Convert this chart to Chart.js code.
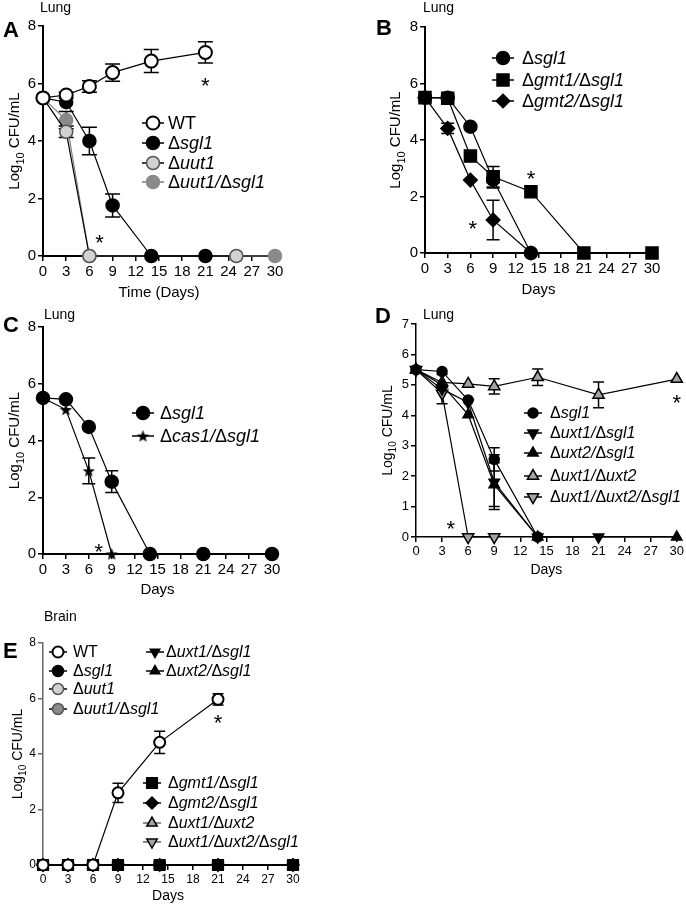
<!DOCTYPE html>
<html><head><meta charset="utf-8">
<script src="https://cdn.jsdelivr.net/npm/chart.js@4.4.1/dist/chart.umd.min.js"></script>
<style>
html,body{margin:0;padding:0;background:#fff;width:686px;height:904px;overflow:hidden}
canvas{position:absolute;left:0;top:0}
</style></head><body>
<canvas id="cA" width="686" height="904"></canvas>
<canvas id="cB" width="686" height="904"></canvas>
<canvas id="cC" width="686" height="904"></canvas>
<canvas id="cD" width="686" height="904"></canvas>
<canvas id="cE" width="686" height="904"></canvas>
<script>
const FONT = "'Liberation Sans', Arial, sans-serif";

// ---------- tick labels ----------
const DAY_TICKS = [0,3,6,9,12,15,18,21,24,27,30];
const Y_TICKS_8 = [0,2,4,6,8];
const Y_TICKS_7 = [0,1,2,3,4,5,6,7];

// ---------- Panel A (Lung) ----------
const A_WT_days = [0,3,6,9,14,21];
const A_WT = [5.5,5.6,5.9,6.38,6.78,7.08];
const A_WT_err = [0,0.1,0.2,0.3,0.4,0.37];
const A_sgl1_days = [0,3,6,9,14,21];
const A_sgl1 = [5.5,5.35,4.0,1.76,0,0];
const A_sgl1_err = [0,0,0.48,0.4,0,0];
const A_uut1_days = [0,3,6,25];
const A_uut1 = [5.5,4.32,0,0];
const A_uut1_err = [0,0.2,0,0];
const A_uut1sgl1_days = [0,3,6,30];
const A_uut1sgl1 = [5.5,4.73,0,0];
const A_uut1sgl1_err = [0,0.3,0,0];

// ---------- Panel B (Lung) ----------
const B_sgl1_days = [0,3,6,9,14];
const B_sgl1 = [5.5,5.5,4.47,2.6,0];
const B_sgl1_err = [0,0,0,0.3,0];
const B_gmt1_days = [0,3,6,9,14,21,30];
const B_gmt1 = [5.5,5.48,3.43,2.7,2.17,0,0];
const B_gmt1_err = [0,0,0,0.36,0,0,0];
const B_gmt2_days = [0,3,6,9,14];
const B_gmt2 = [5.5,4.41,2.58,1.17,0];
const B_gmt2_err = [0,0.18,0,0.7,0];

// ---------- Panel C (Lung) ----------
const C_sgl1_days = [0,3,6,9,14,21,30];
const C_sgl1 = [5.5,5.45,4.48,2.55,0,0,0];
const C_sgl1_err = [0,0,0,0.38,0,0,0];
const C_cas1_days = [0,3,6,9];
const C_cas1 = [5.5,5.09,2.93,0];
const C_cas1_err = [0,0,0.45,0];

// ---------- Panel D (Lung) ----------
const D_sgl1_days = [0,3,6,9,14];
const D_sgl1 = [5.5,5.44,4.5,2.55,0];
const D_sgl1_err = [0,0,0,0.38,0];
const D_uxt1sgl1_days = [0,3,6,9,14,21];
const D_uxt1sgl1 = [5.5,4.86,4.42,1.8,0,0];
const D_uxt1sgl1_err = [0,0.48,0,0.9,0,0];
const D_uxt2sgl1_days = [0,3,6,9,14,30];
const D_uxt2sgl1 = [5.5,5.0,4.02,1.72,0,0];
const D_uxt2sgl1_err = [0,0,0,0.72,0,0];
const D_uxt1uxt2_days = [0,3,6,9,14,21,30];
const D_uxt1uxt2 = [5.5,5.08,5.03,4.95,5.25,4.67,5.19];
const D_uxt1uxt2_err = [0,0,0,0.25,0.27,0.42,0];
const D_triple_days = [0,3,6,9];
const D_triple = [5.5,4.72,0,0];
const D_triple_err = [0,0,0,0];

// ---------- Panel E (Brain) ----------
const E_WT_days = [0,3,6,9,14,21];
const E_WT = [0,0,0,2.6,4.42,5.97];
const E_WT_err = [0,0,0,0.35,0.4,0.2];
const E_mut_days = [0,3,6,9,14,21,30];
const E_sgl1 = [0,0,0,0,0,0,0];
const E_uut1 = [0,0,0,0,0,0,0];
const E_uut1sgl1 = [0,0,0,0,0,0,0];
const E_uxt1sgl1 = [0,0,0,0,0,0,0];
const E_uxt2sgl1 = [0,0,0,0,0,0,0];
const E_gmt1sgl1 = [0,0,0,0,0,0,0];
const E_gmt2sgl1 = [0,0,0,0,0,0,0];
const E_uxt1uxt2 = [0,0,0,0,0,0,0];
const E_triple = [0,0,0,0,0,0,0];
const E_noErr = [0,0,0,0,0,0,0];

// ---------- marker helpers ----------
function makeStar(outer, inner) {
  const s = Math.ceil(outer*2+2);
  const c = document.createElement('canvas'); c.width = s; c.height = s;
  const g = c.getContext('2d'); const cx = s/2, cy = s/2 + 0.6;
  g.beginPath();
  for (let k=0;k<10;k++){ const r = k%2? inner: outer; const a = -Math.PI/2 + k*Math.PI/5;
    const px = cx + Math.cos(a)*r, py = cy + Math.sin(a)*r; k? g.lineTo(px,py): g.moveTo(px,py); }
  g.closePath(); g.fillStyle='#000'; g.fill();
  return c;
}
const STAR = makeStar(6.5, 2.7);

function drawMarker(ctx, mk, x, y) {
  if (mk.style instanceof HTMLCanvasElement) { ctx.drawImage(mk.style, x - mk.style.width/2, y - mk.style.height/2); return; }
  const r = mk.r, rot = (mk.rot||0)*Math.PI/180;
  ctx.beginPath();
  if (mk.style==='circle') ctx.arc(x,y,r,0,2*Math.PI);
  else if (mk.style==='rect') { const s=r*Math.SQRT1_2; ctx.rect(x-s,y-s,2*s,2*s); }
  else if (mk.style==='rectRot') { ctx.moveTo(x,y-r); ctx.lineTo(x+r,y); ctx.lineTo(x,y+r); ctx.lineTo(x-r,y); ctx.closePath(); }
  else if (mk.style==='triangle') { let a=rot; for(let k=0;k<3;k++){ const px=x+Math.sin(a)*r, py=y-Math.cos(a)*r; k?ctx.lineTo(px,py):ctx.moveTo(px,py); a+=2*Math.PI/3;} ctx.closePath(); }
  ctx.fillStyle=mk.fill; ctx.fill(); ctx.strokeStyle=mk.stroke||'#000'; ctx.lineWidth=mk.bw||1.5; ctx.stroke();
}

// draws a strain name: Δ upright, gene names italic ("WT" upright)
function drawLabel(ctx, text, x, y, fs) {
  if (text === 'WT') { ctx.font = fs+'px '+FONT; ctx.fillText(text, x, y); return; }
  const parts = text.split(/(Δ)/).filter(p => p.length);
  let cx = x;
  parts.forEach(p => {
    ctx.font = (p==='Δ' ? '' : 'italic ') + fs + 'px ' + FONT;
    ctx.fillText(p, cx, y);
    cx += ctx.measureText(p).width;
  });
}

const WHITE='#ffffff', LIGHT='#d2d2d2', DARK='#8a8a8a', MID='#a3a3a3', BLACK='#000000';

function ds(label, days, vals, errs, mk, lineColor) {
  return {
    label, data: days.map((d,i)=>({x:d,y:vals[i]})), err: errs, mk,
    lineCol: lineColor||'#000',
    pointStyle: mk.style, pointRadius: mk.r, pointHoverRadius: mk.r, pointRotation: mk.rot||0,
    pointBackgroundColor: mk.fill, pointBorderColor: mk.stroke||'#000', pointBorderWidth: mk.bw||1.5,
    backgroundColor: mk.fill, borderColor: lineColor||'#000', borderWidth: 1.2,
    showLine: true, fill: false, tension: 0, clip: false
  };
}

function makePanel(id, P) {
  const plugin = {
    id: 'decor'+id,
    beforeDatasetsDraw(chart) {
      const ctx = chart.ctx, ys = chart.scales.y;
      ctx.save();
      chart.data.datasets.forEach((d, i) => {
        const meta = chart.getDatasetMeta(i);
        (d.err||[]).forEach((e, j) => {
          if (!e) return;
          const x = meta.data[j].x, v = d.data[j].y;
          const t = ys.getPixelForValue(v+e), b = ys.getPixelForValue(v-e), c = P.cap/2;
          ctx.strokeStyle = '#000'; ctx.lineWidth = 1.5;
          ctx.beginPath(); ctx.moveTo(x,t); ctx.lineTo(x,b);
          ctx.moveTo(x-c,t); ctx.lineTo(x+c,t); ctx.moveTo(x-c,b); ctx.lineTo(x+c,b); ctx.stroke();
        });
      });
      ctx.restore();
    },
    afterDraw(chart) {
      const ctx = chart.ctx, xs = chart.scales.x, ys = chart.scales.y;
      ctx.save();
      ctx.fillStyle = '#000';
      // panel letter
      ctx.font = 'bold 22px '+FONT; ctx.textBaseline='middle'; ctx.textAlign='left';
      ctx.fillText(P.letter, P.letterPos[0], P.letterPos[1]);
      // tissue
      ctx.font = '14px '+FONT;
      ctx.fillText(P.tissue, P.tissuePos[0], P.tissuePos[1]);
      // x title
      ctx.textAlign='center'; ctx.font = P.titleSize+'px '+FONT;
      ctx.fillText(P.xTitle, (xs.left+xs.right)/2, P.xTitleY);
      // y title with subscript
      ctx.save();
      ctx.translate(P.yTitleX, (ys.top+ys.bottom)/2); ctx.rotate(-Math.PI/2);
      const fs = P.titleSize, subFs = Math.round(fs*0.7);
      ctx.font = fs+'px '+FONT; const w1 = ctx.measureText('Log').width, w3 = ctx.measureText(' CFU/mL').width;
      ctx.font = subFs+'px '+FONT; const w2 = ctx.measureText('10').width;
      let x0 = -(w1+w2+w3)/2;
      ctx.textAlign='left'; ctx.textBaseline='alphabetic';
      ctx.font = fs+'px '+FONT; ctx.fillText('Log', x0, fs*0.36);
      ctx.font = subFs+'px '+FONT; ctx.fillText('10', x0+w1, fs*0.36+fs*0.3);
      ctx.font = fs+'px '+FONT; ctx.fillText(' CFU/mL', x0+w1+w2, fs*0.36);
      ctx.restore();
      // asterisks
      ctx.font = '22px '+FONT; ctx.textAlign='center'; ctx.textBaseline='alphabetic';
      P.stars.forEach(s => {
        const px = xs.getPixelForValue(s[0]), py = ys.getPixelForValue(s[1]);
        ctx.fillText('*', px, py + 22*0.57);
      });
      // legends
      P.legends.forEach(L => {
        L.items.forEach((idx, k) => {
          const d = chart.data.datasets[idx];
          const y = L.ys[k], x = L.x;
          ctx.strokeStyle = d.lineCol; ctx.lineWidth = 1.5;
          ctx.beginPath(); ctx.moveTo(x-L.half, y); ctx.lineTo(x+L.half, y); ctx.stroke();
          drawMarker(ctx, d.mk, x, y);
          ctx.fillStyle='#000';
          ctx.textAlign='left'; ctx.textBaseline='middle';
          drawLabel(ctx, d.label, L.tx, y+1, L.fs);
        });
      });
      ctx.restore();
    }
  };
  const axisCol = P.axisColor||'#000';
  new Chart(document.getElementById(id), {
    type: 'line',
    data: { datasets: P.datasets },
    options: {
      responsive: false, animation: false, devicePixelRatio: 1,
      layout: { padding: { left: P.ax0-40, top: P.ay1, right: 686-P.ax1, bottom: 904-P.ay0-40 } },
      plugins: { legend: {display:false}, tooltip: {enabled:false} },
      scales: {
        x: { type:'linear', position:'bottom', min:0, max:30,
          afterBuildTicks: s => { s.ticks = DAY_TICKS.map(v=>({value:v})); },
          afterFit: s => { s.height = 40; },
          ticks: { font:{family:FONT, size:P.tickSize}, color:'#000', padding:2, maxRotation:0, autoSkip:false },
          grid: { drawOnChartArea:false, drawTicks:true, tickLength:5, color:'#000', lineWidth:1.5 },
          border: { display:true, color:'#000', width:P.axisW } },
        y: { type:'linear', position:'left', min:0, max:P.ymax,
          afterBuildTicks: s => { s.ticks = P.yTicks.map(v=>({value:v})); },
          afterFit: s => { s.width = 40; },
          ticks: { font:{family:FONT, size:P.tickSize}, color:'#000', padding:2 },
          grid: { drawOnChartArea:false, drawTicks:true, tickLength:5, color:axisCol, lineWidth:1.5 },
          border: { display:true, color:axisCol, width:P.axisW } }
      }
    },
    plugins: [plugin]
  });
}

// ---------- build panels ----------
const mOpen = {style:'circle', r:6.5, fill:WHITE, bw:2};
const mBlack = {style:'circle', r:6.5, fill:BLACK};
const mLight = {style:'circle', r:6.5, fill:LIGHT, stroke:'#555'};
const mDark = {style:'circle', r:6.5, fill:DARK, stroke:DARK};

makePanel('cA', {
  ax0:43, ax1:275, ay0:256, ay1:26, ymax:8, yTicks:Y_TICKS_8, tickSize:15, titleSize:15, axisW:2, cap:15,
  letter:'A', letterPos:[3,31], tissue:'Lung', tissuePos:[40,8],
  xTitle:'Time (Days)', xTitleY:293, yTitleX:14,
  stars:[[21,6.1],[7.3,0.66]],
  datasets:[
    ds('WT', A_WT_days, A_WT, A_WT_err, mOpen),
    ds('Δsgl1', A_sgl1_days, A_sgl1, A_sgl1_err, mBlack),
    ds('Δuut1', A_uut1_days, A_uut1, A_uut1_err, mLight),
    ds('Δuut1/Δsgl1', A_uut1sgl1_days, A_uut1sgl1, A_uut1sgl1_err, mDark, '#808080')
  ],
  legends:[{x:153, tx:168, half:11, fs:18, items:[0,1,2,3], ys:[123,143,163,182]}]
});

makePanel('cB', {
  ax0:425, ax1:652, ay0:253, ay1:27, ymax:8, yTicks:Y_TICKS_8, tickSize:15, titleSize:15, axisW:2, cap:13,
  letter:'B', letterPos:[376,29], tissue:'Lung', tissuePos:[423,8],
  xTitle:'Days', xTitleY:290, yTitleX:395,
  stars:[[14,2.8],[6.3,1.03]],
  datasets:[
    ds('Δsgl1', B_sgl1_days, B_sgl1, B_sgl1_err, {style:'circle', r:6.5, fill:BLACK}),
    ds('Δgmt1/Δsgl1', B_gmt1_days, B_gmt1, B_gmt1_err, {style:'rect', r:8.5, fill:BLACK}),
    ds('Δgmt2/Δsgl1', B_gmt2_days, B_gmt2, B_gmt2_err, {style:'rectRot', r:6.8, fill:BLACK})
  ],
  legends:[{x:503, tx:522, half:11, fs:18, items:[0,1,2], ys:[58,80,101]}]
});

makePanel('cC', {
  ax0:43, ax1:272, ay0:554, ay1:327, ymax:8, yTicks:Y_TICKS_8, tickSize:15, titleSize:15, axisW:2, cap:13,
  letter:'C', letterPos:[3,326], tissue:'Lung', tissuePos:[44,315],
  xTitle:'Days', xTitleY:590, yTitleX:14,
  stars:[[7.3,0.25]],
  datasets:[
    ds('Δsgl1', C_sgl1_days, C_sgl1, C_sgl1_err, {style:'circle', r:6.5, fill:BLACK}),
    ds('Δcas1/Δsgl1', C_cas1_days, C_cas1, C_cas1_err, {style:STAR, r:6.5, fill:BLACK})
  ],
  legends:[{x:143, tx:160, half:11, fs:18, items:[0,1], ys:[413,436]}]
});

makePanel('cD', {
  ax0:416, ax1:678, ay0:537, ay1:324, ymax:7, yTicks:Y_TICKS_7, tickSize:13, titleSize:14, axisW:1.5, cap:11,
  letter:'D', letterPos:[375,317], tissue:'Lung', tissuePos:[423,315],
  xTitle:'Days', xTitleY:570, yTitleX:387,
  stars:[[30,4.57],[4.0,0.43]],
  datasets:[
    ds('Δsgl1', D_sgl1_days, D_sgl1, D_sgl1_err, {style:'circle', r:5, fill:BLACK}),
    ds('Δuxt1/Δsgl1', D_uxt1sgl1_days, D_uxt1sgl1, D_uxt1sgl1_err, {style:'triangle', r:6, rot:180, fill:BLACK}),
    ds('Δuxt2/Δsgl1', D_uxt2sgl1_days, D_uxt2sgl1, D_uxt2sgl1_err, {style:'triangle', r:6, fill:BLACK}),
    ds('Δuxt1/Δuxt2', D_uxt1uxt2_days, D_uxt1uxt2, D_uxt1uxt2_err, {style:'triangle', r:6.5, fill:MID}),
    ds('Δuxt1/Δuxt2/Δsgl1', D_triple_days, D_triple, D_triple_err, {style:'triangle', r:6.5, rot:180, fill:MID})
  ],
  legends:[{x:533, tx:550, half:9, fs:16, items:[0,1,2,3,4], ys:[413,433,453,476,497]}]
});

makePanel('cE', {
  ax0:43, ax1:293, ay0:865, ay1:643, ymax:8, yTicks:Y_TICKS_8, tickSize:12, titleSize:14, axisW:1.5, cap:11, axisColor:'#666',
  letter:'E', letterPos:[3,652], tissue:'Brain', tissuePos:[44,617],
  xTitle:'Days', xTitleY:896, yTitleX:17,
  stars:[[21,5.3]],
  datasets:[
    ds('WT', E_WT_days, E_WT, E_WT_err, {style:'circle', r:5.5, fill:WHITE, bw:2}),
    ds('Δgmt1/Δsgl1', E_mut_days, E_gmt1sgl1, E_noErr, {style:'rect', r:7.5, fill:BLACK}),
    ds('Δsgl1', E_mut_days, E_sgl1, E_noErr, {style:'circle', r:5.5, fill:BLACK}),
    ds('Δuut1', E_mut_days, E_uut1, E_noErr, {style:'circle', r:5.5, fill:LIGHT, stroke:'#555'}),
    ds('Δuut1/Δsgl1', E_mut_days, E_uut1sgl1, E_noErr, {style:'circle', r:5.5, fill:DARK, stroke:'#555'}),
    ds('Δuxt1/Δsgl1', E_mut_days, E_uxt1sgl1, E_noErr, {style:'triangle', r:5.5, rot:180, fill:BLACK}),
    ds('Δuxt2/Δsgl1', E_mut_days, E_uxt2sgl1, E_noErr, {style:'triangle', r:5.5, fill:BLACK}),
    ds('Δgmt2/Δsgl1', E_mut_days, E_gmt2sgl1, E_noErr, {style:'rectRot', r:6, fill:BLACK}),
    ds('Δuxt1/Δuxt2', E_mut_days, E_uxt1uxt2, E_noErr, {style:'triangle', r:6, fill:MID}, '#666'),
    ds('Δuxt1/Δuxt2/Δsgl1', E_mut_days, E_triple, E_noErr, {style:'triangle', r:6, rot:180, fill:MID}, '#666')
  ],
  legends:[
    {x:58, tx:73, half:9, fs:16, items:[0,2,3,4], ys:[652,671,689,709]},
    {x:155, tx:166, half:9, fs:16, items:[5,6], ys:[652,671]},
    {x:152, tx:168, half:9, fs:16, items:[1,7,8,9], ys:[783,803,823,842]}
  ]
});
</script>
</body></html>
